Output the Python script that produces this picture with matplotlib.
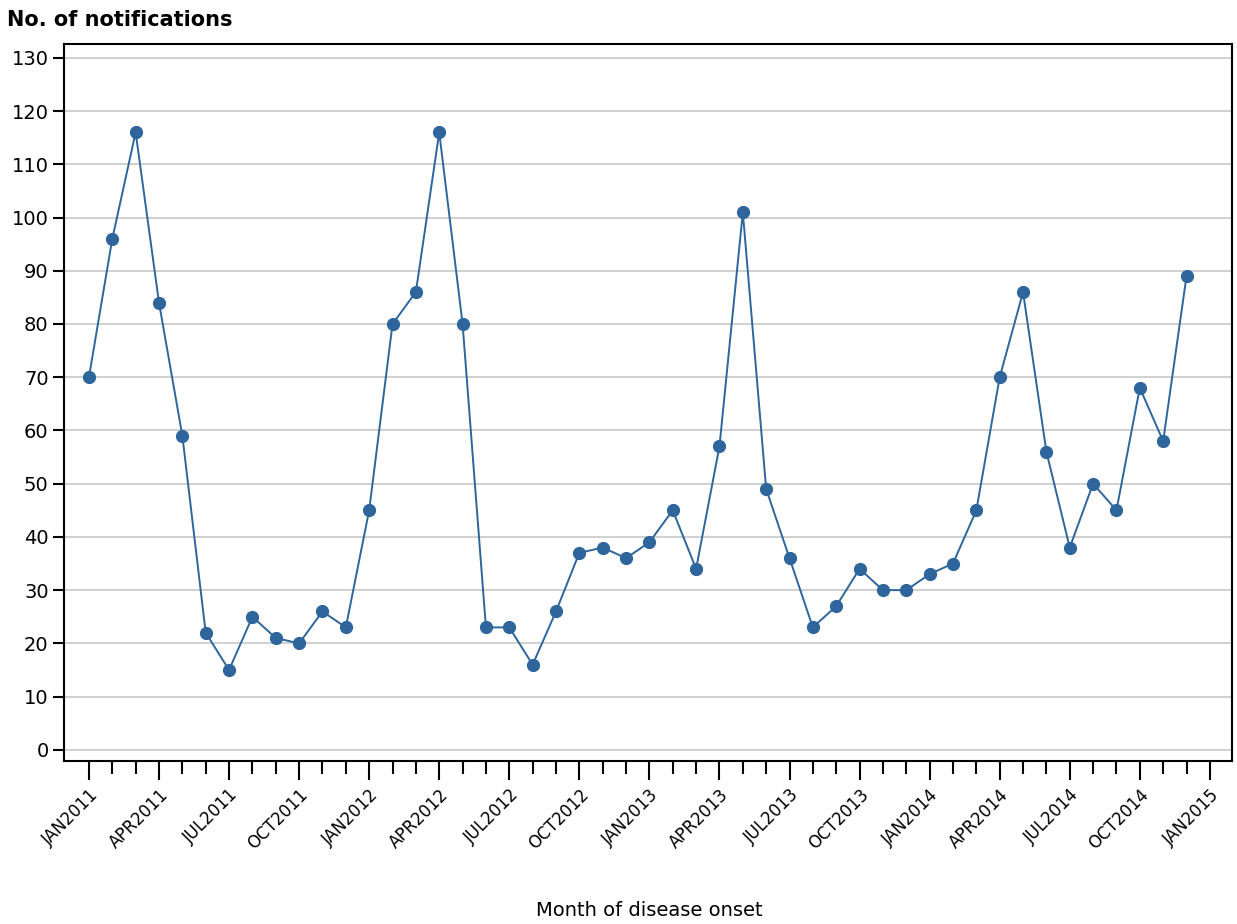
import numpy as np
import matplotlib.pyplot as plt

# monthly notifications, Jan 2011 .. Dec 2014
notifications = [
    70, 96, 116, 84, 59, 22, 15, 25, 21, 20, 26, 23,
    45, 80, 86, 116, 80, 23, 23, 16, 26, 37, 38, 36,
    39, 45, 34, 57, 101, 49, 36, 23, 27, 34, 30, 30,
    33, 35, 45, 70, 86, 56, 38, 50, 45, 68, 58, 89,
]
tick_labels = ['JAN2011', 'APR2011', 'JUL2011', 'OCT2011',
               'JAN2012', 'APR2012', 'JUL2012', 'OCT2012',
               'JAN2013', 'APR2013', 'JUL2013', 'OCT2013',
               'JAN2014', 'APR2014', 'JUL2014', 'OCT2014',
               'JAN2015']
y_ticks = list(range(0, 131, 10))

months = np.arange(len(notifications))
line_col = '#2e659c'

fig = plt.figure(figsize=(12.37, 9.24), dpi=100)
ax = fig.add_axes([0.0517, 0.1764, 0.9443, 0.776])

ax.plot(months, notifications, color=line_col, lw=1.4, marker='o',
        ms=8.5, mfc=line_col, mec=line_col, zorder=3)

ax.set_xlim(-1.07, 48.95)
ax.set_ylim(-2.1, 132.6)

ax.set_yticks(y_ticks)
ax.set_yticklabels([str(v) for v in y_ticks], fontsize=14)
ax.set_xticks(np.arange(0, 49, 3))
ax.set_xticks(np.arange(0, 49, 1), minor=True)
ax.set_xticklabels(tick_labels, rotation=45, ha='right', va='top',
                   rotation_mode='anchor', fontsize=12)

ax.tick_params(axis='x', which='major', length=14, width=1.5, color='black', pad=4)
ax.tick_params(axis='x', which='minor', length=9, width=1.5, color='black')
ax.tick_params(axis='y', length=8, width=1.5, pad=3)

ax.grid(axis='y', color='#c8c8c8', lw=1.2)
ax.set_axisbelow(True)
for s in ax.spines.values():
    s.set_linewidth(1.5)

fig.text(0.006, 0.978, 'No. of notifications', fontsize=15, fontweight='bold',
         ha='left', va='center')
fig.text(0.525, 0.015, 'Month of disease onset', fontsize=14,
         ha='center', va='center')

fig.savefig('out.png', dpi=100, facecolor='white')
